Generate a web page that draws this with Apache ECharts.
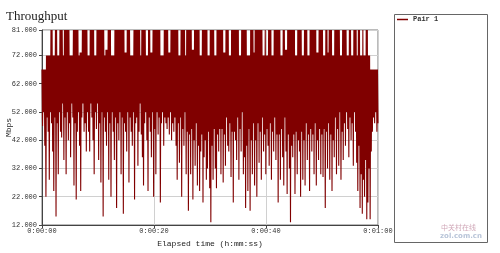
<!DOCTYPE html>
<html>
<head>
<meta charset="utf-8">
<script src="https://cdn.jsdelivr.net/npm/echarts@6/dist/echarts.min.js"></script>
<style>html,body{margin:0;padding:0;background:#fff;}#c{width:500px;height:253px;}</style>
</head>
<body>
<div id="c"></div>
<script>
// Tick labels
const yTicks = [12, 22, 32, 42, 52, 62, 72, 81];
const xTickSeconds = [0, 20, 40, 60];
const seriesName = 'Pair 1';
const durationSeconds = 60;

// Peak (high) samples, read left to right (groups of ~2 s)
const highs = [
  67,67,67,67,72,72,72,72,81,81,
  72,72,81,81,72,72,81,81,81,72,
  81,81,81,81,81,72,72,72,81,81,
  81,81,81,72,73,73,81,81,81,81,
  81,72,72,81,81,81,81,72,72,81,
  81,81,81,81,81,81,72,74,74,81,
  81,81,72,72,72,81,81,81,81,81,
  81,81,81,81,73,73,81,81,81,72,
  72,72,81,81,81,81,81,81,72,81,
  81,81,81,72,72,81,81,73,73,81,
  81,81,81,81,81,81,72,72,72,81,
  81,81,81,73,73,81,81,81,81,81,
  81,81,72,72,81,81,81,81,72,81,
  81,81,81,81,74,74,81,81,81,81,
  81,72,72,81,81,81,81,81,72,72,
  81,81,81,81,72,72,81,81,81,81,
  81,81,73,73,81,81,81,72,72,81,
  81,81,81,81,81,81,72,72,81,81,
  81,81,81,72,72,72,81,81,81,73,
  81,81,81,81,81,81,81,72,72,81,
  72,72,81,81,81,72,72,81,81,81,
  81,81,81,72,72,81,81,74,74,81,
  81,81,81,81,81,81,72,72,81,81,
  81,81,72,72,81,81,81,72,72,81,
  81,81,81,81,81,73,73,81,81,81,
  81,72,72,81,81,73,81,81,81,72,
  72,81,81,81,81,81,72,72,81,81,
  81,81,72,72,81,81,72,72,81,81,
  81,72,81,81,72,72,81,72,72,81,
  81,72,72,67,67,67,67,67,67,67
];
// Trough (low) samples, read left to right (groups of ~2 s)
const lows = [
  47,52,40,22,50,45,28,52,48,38,
  24,50,15,48,30,52,45,43,55,35,
  50,30,52,42,48,36,55,50,26,48,
  21,45,52,40,24,50,55,45,48,38,
  52,45,38,55,50,42,30,52,46,55,
  35,48,27,52,15,50,45,40,52,28,
  48,22,52,45,35,50,18,48,42,52,
  30,50,16,48,45,38,52,27,50,45,
  40,52,21,48,50,33,45,55,44,36,
  26,48,52,42,24,50,45,36,52,22,
  46,30,52,44,50,20,48,52,40,50,
  48,46,50,44,52,42,48,45,50,40,
  28,48,34,50,22,46,40,52,30,45,
  17,44,30,46,21,42,33,48,26,40,
  24,38,44,20,36,42,28,32,45,25,
  13,40,28,46,32,25,44,38,46,30,
  46,27,44,33,50,40,38,48,29,45,
  20,45,42,35,50,28,46,38,52,30,
  36,18,40,24,46,17,42,30,48,26,
  42,22,48,34,45,28,50,38,44,30,
  46,40,33,48,28,45,38,50,35,44,
  20,44,28,46,36,26,50,38,23,44,
  32,13,40,36,44,23,45,30,42,38,
  22,45,28,42,26,48,35,44,24,46,
  38,44,30,48,26,42,35,46,30,44,
  29,46,18,45,32,48,28,44,24,42,
  36,50,30,46,33,52,28,45,35,48,
  40,52,46,36,50,42,48,33,52,45,
  34,24,40,18,30,16,28,22,35,14,
  20,32,14,38,45,50,48,52,45,48
];

const values = [];
for (let i = 0; i < highs.length; i++) { values.push(highs[i]); values.push(lows[i]); }
const step = durationSeconds / (values.length - 1);
const data = values.map((v, i) => [i * step, v]);

function fmtTime(s) {
  const h = Math.floor(s / 3600), m = Math.floor((s % 3600) / 60), sec = Math.round(s % 60);
  return h + ':' + String(m).padStart(2, '0') + ':' + String(sec).padStart(2, '0');
}

const mono = 'Liberation Mono';
const chart = echarts.init(document.getElementById('c'), null, {renderer: 'canvas'});
chart.setOption({
  animation: false,
  backgroundColor: '#ffffff',
  title: {
    text: 'Throughput', left: 1, top: 5,
    textStyle: {fontFamily: 'Liberation Serif', fontSize: 13, fontWeight: 'normal', color: '#222'}
  },
  grid: {left: 42, right: 122, top: 30, bottom: 28, show: true, borderColor: '#777', borderWidth: 1,
         containLabel: false, outerBoundsMode: 'none'},
  legend: {
    left: 397, top: 16, padding: 0, itemWidth: 11, itemHeight: 1.5, itemGap: 4,
    data: [{name: seriesName, icon: 'rect'}],
    textStyle: {fontFamily: mono, fontSize: 7, fontWeight: 'bold', color: '#333'}
  },
  xAxis: {
    type: 'value', min: xTickSeconds[0], max: xTickSeconds[xTickSeconds.length - 1],
    interval: xTickSeconds[1] - xTickSeconds[0],
    name: 'Elapsed time (h:mm:ss)', nameLocation: 'middle', nameGap: 15, nameMoveOverlap: false,
    nameTextStyle: {fontFamily: mono, fontSize: 8, color: '#222'},
    axisLine: {lineStyle: {color: '#444'}},
    axisTick: {show: true, length: 3, lineStyle: {color: '#444'}},
    axisLabel: {fontFamily: mono, fontSize: 7, color: '#333', margin: 3, formatter: v => fmtTime(v)},
    splitLine: {show: true, lineStyle: {color: '#d0d0d0', width: 1}}
  },
  yAxis: {
    type: 'value', min: yTicks[0], max: yTicks[yTicks.length - 1], interval: yTicks[1] - yTicks[0],
    name: 'Mbps', nameLocation: 'middle', nameGap: 29, nameRotate: 90, nameMoveOverlap: false,
    nameTextStyle: {fontFamily: mono, fontSize: 8, color: '#222'},
    axisLine: {show: true, lineStyle: {color: '#444'}},
    axisTick: {show: true, length: 3, lineStyle: {color: '#444'}},
    axisLabel: {fontFamily: mono, fontSize: 7, color: '#333', margin: 5, formatter: v => v.toFixed(3)},
    splitLine: {show: true, lineStyle: {color: '#d0d0d0', width: 1}}
  },
  series: [{
    name: seriesName, type: 'line', data: data, showSymbol: false, symbol: 'none',
    lineStyle: {color: '#800000', width: 1.1}, itemStyle: {color: '#800000'},
    clip: true
  }],
  graphic: [
    {type: 'rect', shape: {x: 394.5, y: 14.5, width: 93, height: 228},
     style: {fill: 'none', stroke: '#666', lineWidth: 1}, z: -1},
    {type: 'text', left: 441, top: 224, style: {text: '中关村在线', font: '7px "Noto Sans CJK SC"', fill: '#d0a8b8'}},
    {type: 'text', left: 440, top: 233, style: {text: 'zol.com.cn', font: 'bold 7px "DejaVu Sans"', fill: '#b8c4d8'}}
  ]
});
</script>
</body>
</html>
